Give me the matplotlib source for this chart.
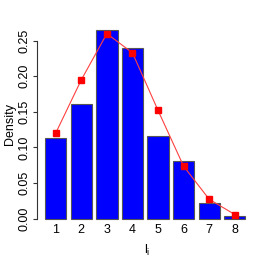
import matplotlib
matplotlib.use("Agg")
import matplotlib.pyplot as plt
import numpy as np

categories = ["1", "2", "3", "4", "5", "6", "7", "8"]
bar_density = [0.113, 0.161, 0.265, 0.240, 0.116, 0.0805, 0.0225, 0.004]
model_density = [0.120, 0.195, 0.260, 0.233, 0.152, 0.0735, 0.027, 0.0056]
yticks = [0.00, 0.05, 0.10, 0.15, 0.20, 0.25]

plt.rcParams['font.family'] = ['Liberation Sans', 'DejaVu Sans']
W = H = 258
fig = plt.figure(figsize=(W / 100, H / 100), dpi=100)
left, right, top, bottom = 37.3, 257.5, 22.6, 225.5
ax = fig.add_axes([left / W, 1 - bottom / H, (right - left) / W, (bottom - top) / H])

x = np.arange(1, len(categories) + 1)
ax.bar(x, bar_density, width=1 / 1.2, color='#0000ff', edgecolor='#555555', linewidth=0.8)
ax.plot(x, model_density, color='#ff4040', linewidth=0.8, marker='s', markersize=5,
        markerfacecolor='#ff0000', markeredgecolor='#ff0000')

ax.set_xlim(1 - (55.7 - left) / 25.59, 8 + (right - 234.8) / 25.59)
ax.set_ylim(-(bottom - 218.5) / 711, (218.5 - top) / 711)

for s in ['top', 'right', 'bottom']:
    ax.spines[s].set_visible(False)
ax.spines['left'].set_bounds(0, 0.25)
ax.spines['left'].set_color('#333333')
ax.spines['left'].set_linewidth(0.8)

ax.set_yticks(yticks)
ax.set_yticklabels([f"{v:.2f}" for v in yticks], rotation=90, va='center', fontsize=9)
ax.tick_params(axis='y', length=3, width=0.8, color='#333333', pad=2)
ax.set_xticks(x)
ax.set_xticklabels(categories, fontsize=9)
ax.tick_params(axis='x', length=0, pad=-1)

ax.set_ylabel("Density", fontsize=9, labelpad=2)
ax.set_xlabel(r"$\mathregular{l_i}$", fontsize=9, labelpad=5)

fig.savefig("out.png", dpi=100)
